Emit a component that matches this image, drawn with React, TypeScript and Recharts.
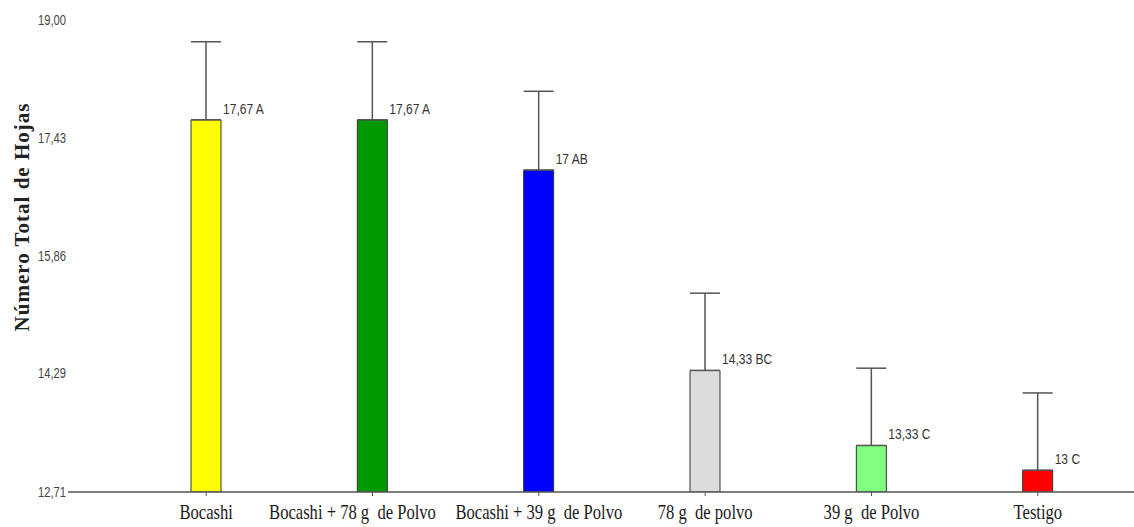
import React from 'react';
import { BarChart, Bar, XAxis, YAxis, ErrorBar, LabelList, Cell } from 'recharts';

const categories = [
  'Bocashi',
  'Bocashi + 78 g  de Polvo',
  'Bocashi + 39 g  de Polvo',
  '78 g  de polvo',
  '39 g  de Polvo',
  'Testigo',
];
const means = [17.67, 17.67, 17.0, 14.33, 13.33, 13.0];
const errors = [1.04, 1.04, 1.05, 1.03, 1.03, 1.03];
const letters = ['A', 'A', 'AB', 'BC', 'C', 'C'];
const yTicks = [12.71, 14.29, 15.86, 17.43, 19.0];

const COLORS = ['#FFFF00', '#009900', '#0000FF', '#DCDCDC', '#80FF80', '#FF0000'];

const data = categories.map((name, i) => ({
  name,
  mean: means[i],
  err: [0, errors[i]],
  label: `${String(means[i]).replace('.', ',')} ${letters[i]}`,
}));

// second label is nudged left in the original so it doesn't crowd the third
const XTick = (props: any) => {
  const { x, y, payload, index } = props;
  const nudge = index === 1 ? -20 : 0;
  return (
    <g transform={`translate(${x + nudge},${y})`}>
      <text
        x={0}
        y={21}
        textAnchor="middle"
        fontFamily="'Liberation Serif', 'Times New Roman', serif"
        fontSize={21}
        fill="#1a1a1a"
        transform="scale(0.79,1)"
        style={{ whiteSpace: 'pre' }}
      >
        {payload.value}
      </text>
    </g>
  );
};

const YTick = (props: any) => {
  const { y, payload } = props;
  return (
    <g transform={`translate(66,${y})`}>
      <text
        x={0}
        y={5}
        textAnchor="end"
        fontFamily="'Liberation Sans', Arial, sans-serif"
        fontSize={14}
        fill="#444"
        transform="scale(0.8,1)"
      >
        {payload.value.toFixed(2).replace('.', ',')}
      </text>
    </g>
  );
};

const ValueLabel = (props: any) => {
  const { x, y, width, value } = props;
  return (
    <g transform={`translate(${x + width + 2},${y - 6})`}>
      <text
        x={0}
        y={0}
        textAnchor="start"
        fontFamily="'Liberation Sans', Arial, sans-serif"
        fontSize={14}
        fill="#333"
        transform="scale(0.86,1)"
      >
        {value}
      </text>
    </g>
  );
};

const YTitle = () => (
  <text
    x={22}
    y={217}
    transform="rotate(-90, 22, 217)"
    textAnchor="middle"
    dominantBaseline="central"
    fontFamily="'Liberation Serif', 'Times New Roman', serif"
    fontWeight="bold"
    fontSize={21}
    letterSpacing={1}
    fill="#222"
  >
    Número Total de Hojas
  </text>
);

export default function App() {
  return (
    <div style={{ position: 'absolute', left: 0, top: 0, background: '#fff' }}>
      <BarChart
        width={1134}
        height={527}
        data={data}
        margin={{ top: 20, right: 0, left: 0, bottom: 0 }}
      >
        <XAxis
          dataKey="name"
          height={35}
          padding={{ left: 55, right: 13 }}
          axisLine={{ stroke: '#555', strokeWidth: 1.5 }}
          tickLine={{ stroke: '#555' }}
          tickSize={4}
          interval={0}
          tick={<XTick />}
        />
        <YAxis
          type="number"
          width={68}
          domain={[12.71, 19]}
          ticks={yTicks}
          allowDataOverflow
          axisLine={false}
          tickLine={false}
          tick={<YTick />}
          label={<YTitle />}
        />
        <Bar dataKey="mean" barSize={30} stroke="#333" strokeWidth={1} isAnimationActive={false}>
          {data.map((d, i) => (
            <Cell key={d.name} fill={COLORS[i]} />
          ))}
          <ErrorBar dataKey="err" width={15} stroke="#555" strokeWidth={1.5} direction="y" />
          <LabelList dataKey="label" content={<ValueLabel />} />
        </Bar>
      </BarChart>
    </div>
  );
}
